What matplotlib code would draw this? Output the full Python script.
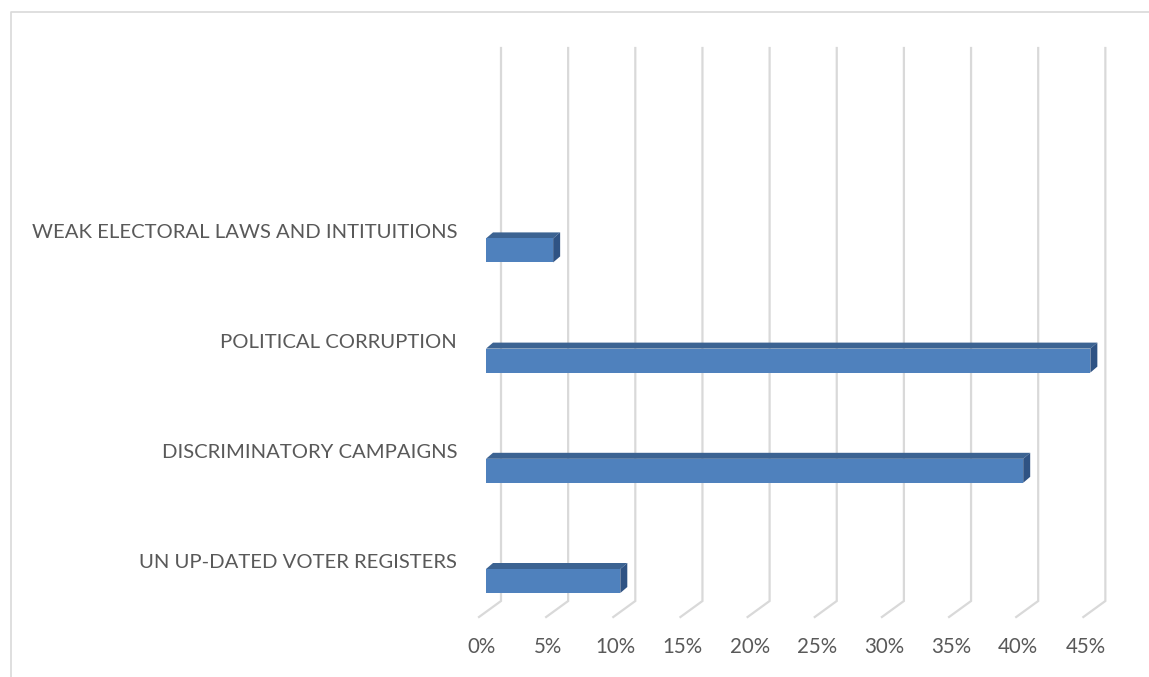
import matplotlib
matplotlib.use("Agg")
import matplotlib.pyplot as plt
from matplotlib.patches import Polygon
from matplotlib.lines import Line2D

# Data
categories = [
    "UN UP-DATED VOTER REGISTERS",
    "DISCRIMINATORY CAMPAIGNS",
    "POLITICAL CORRUPTION",
    "WEAK ELECTORAL LAWS AND INTITUITIONS",
]
values = [10, 40, 45, 5]          # percent
ticks = [0, 5, 10, 15, 20, 25, 30, 35, 40, 45]
tick_labels = [f"{t}%" for t in ticks]

# Figure / layout
W, H, DPI = 1149, 677, 100
fig = plt.figure(figsize=(W / DPI, H / DPI), dpi=DPI)
ax = fig.add_axes([0, 0, 1, 1])
ax.set_axis_off()

PX_PER_PCT = 13.43     # horizontal scale
PX_PER_CAT = 110.2     # vertical spacing of categories
X0_PX = 486            # pixel column of 0% on the bar front plane
Y0_PX = 581            # pixel row of the first category centre

ax.set_xlim(-X0_PX / PX_PER_PCT, (W - X0_PX) / PX_PER_PCT)
ax.set_ylim((Y0_PX - H) / PX_PER_CAT, Y0_PX / PX_PER_CAT)


def px_x(p):
    return p / PX_PER_PCT


def px_y(p):
    return p / PX_PER_CAT


text_color = "#595959"
grid_color = "#d9d9d9"
front_c = "#4f81bd"
top_c = "#3c6392"
side_c = "#2f5384"

# 3-D style gridlines on the back wall, bending down onto the floor
wall_dx = px_x(15)
floor_dx = px_x(-7)
y_wall_top = px_y(Y0_PX - 48)
y_wall_bot = px_y(Y0_PX - 601)
y_floor = px_y(Y0_PX - 617)
for t in ticks:
    ax.plot([t + floor_dx, t + wall_dx, t + wall_dx],
            [y_floor, y_wall_bot, y_wall_top],
            color=grid_color, lw=1.6, solid_joinstyle="miter", zorder=1)

# Bars with a top and right face for depth
bar_h = px_y(24)
ddx, ddy = px_x(7), px_y(6)
for i, v in enumerate(values):
    bot = i - bar_h / 2
    top = i + bar_h / 2
    ax.add_patch(Polygon([(0, top), (v, top), (v + ddx, top + ddy), (ddx, top + ddy)],
                         closed=True, facecolor=top_c, edgecolor="none", zorder=3))
    ax.add_patch(Polygon([(v, bot), (v, top), (v + ddx, top + ddy), (v + ddx, bot + ddy)],
                         closed=True, facecolor=side_c, edgecolor="none", zorder=3))
    ax.add_patch(Polygon([(0, bot), (v, bot), (v, top), (0, top)],
                         closed=True, facecolor=front_c, edgecolor="none", zorder=4))

# Category labels
font = "Lato"
for i, name in enumerate(categories):
    ax.text(px_x(457 - X0_PX), i + px_y(18), name, ha="right", va="center",
            fontsize=14.6, color=text_color, family=font)

# Value-axis labels
for t, lab in zip(ticks, tick_labels):
    ax.text(t + px_x(-5), px_y(Y0_PX - 647), lab, ha="center", va="center",
            fontsize=14.8, color=text_color, family=font)

# Chart area border
fig.add_artist(Line2D([11 / W, 11 / W, 1.0], [0.0, 1 - 12 / H, 1 - 12 / H],
                      transform=fig.transFigure, color=grid_color, lw=1.2))

fig.savefig("out.png", dpi=DPI, facecolor="white")
